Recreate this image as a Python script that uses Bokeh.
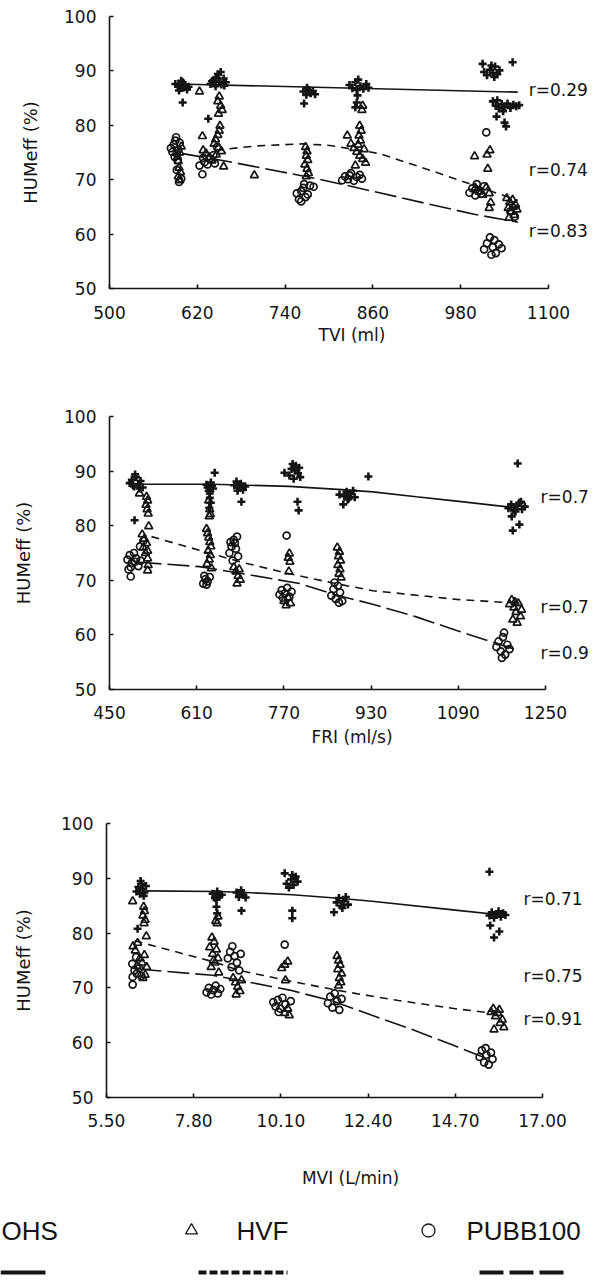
from bokeh.plotting import figure
from bokeh.layouts import column, row
from bokeh.models import Range1d, FixedTicker, Label
from bokeh.embed import file_html
from bokeh.resources import INLINE
from bokeh.core.properties import value

FONT = "DejaVu Sans"
INK = "#141414"

Y_TICKS = [50, 60, 70, 80, 90, 100]

# ---------------- Panel 1: TVI (ml) ----------------
TVI_TICKS = [500, 620, 740, 860, 980, 1100]
TVI_OHS = [(590, 87.6), (594, 87.2), (597, 86.8), (600, 87.9), (603, 87.4), (606, 86.6), (598, 88.2), (608, 87.1),
           (595, 86.4), (601, 86.9), (600, 84.2),
           (638, 87.6), (642, 88.3), (645, 87.2), (648, 89.4), (650, 88.0), (653, 87.5), (656, 88.6), (659, 87.9),
           (646, 88.8), (652, 89.8), (640, 88.1), (657, 87.3), (635, 81.2),
           (765, 86.2), (769, 85.6), (772, 86.5), (775, 85.9), (778, 86.3), (770, 86.9), (781, 85.7), (766, 84.0),
           (828, 87.4), (832, 86.8), (836, 87.9), (840, 88.4), (843, 87.2), (847, 86.7), (851, 87.6), (854, 86.9),
           (838, 86.5), (839, 85.5), (838, 84.2), (836, 83.3),
           (1010, 91.3), (1012, 89.8), (1016, 89.2), (1020, 90.2), (1024, 89.6), (1027, 90.8), (1030, 89.4),
           (1033, 90.1), (1026, 88.9), (1022, 91.0), (1051, 91.6),
           (1024, 84.4), (1028, 83.6), (1032, 83.1), (1036, 83.9), (1040, 83.4), (1044, 84.0), (1048, 83.2),
           (1052, 83.8), (1056, 83.5), (1060, 83.7), (1038, 82.6), (1030, 84.6), (1029, 81.6), (1042, 79.8),
           (1040, 80.5)]
TVI_HVF = [(623, 86.2), (650, 85.3), (648, 84.4), (652, 83.6), (654, 82.8), (649, 82.1), (651, 79.9), (650, 79.0),
           (648, 78.2), (627, 78.0), (645, 77.4), (643, 76.6), (649, 75.9), (653, 75.2), (646, 74.6), (656, 72.4),
           (698, 70.8),
           (593, 74.2), (596, 75.0), (598, 76.1), (594, 73.4), (595, 72.2), (597, 71.4), (594, 70.6), (596, 69.9),
           (628, 75.4), (632, 74.8), (636, 74.1), (640, 73.5),
           (768, 76.0), (770, 75.2), (769, 74.4), (771, 73.6), (767, 72.8), (770, 72.0), (772, 71.2), (769, 70.6),
           (825, 78.1), (842, 79.9), (844, 79.0), (841, 78.1), (843, 77.2), (846, 83.6), (845, 82.8), (830, 76.6),
           (834, 75.8), (838, 75.1), (842, 74.4), (846, 73.8), (850, 73.1), (836, 72.6), (840, 76.4), (848, 75.6),
           (999, 74.3), (1016, 74.6), (1020, 75.4), (1017, 72.0), (1000, 68.5), (1005, 67.8), (1010, 67.2),
           (1015, 68.6), (1019, 67.5), (1021, 65.8), (1019, 64.8),
           (1043, 66.6), (1047, 65.9), (1051, 66.3), (1055, 65.4), (1045, 64.8), (1049, 64.1), (1053, 63.5),
           (1057, 64.5), (1046, 63.0), (1052, 65.0)]
TVI_PUBB = [(584, 75.8), (588, 76.5), (590, 77.2), (592, 74.8), (594, 75.5), (596, 76.8), (589, 74.2), (586, 75.1),
            (591, 77.8), (593, 73.6), (592, 71.8), (598, 70.2), (595, 69.6),
            (623, 72.6), (627, 71.0), (630, 73.2), (634, 72.8), (638, 73.9), (642, 74.5), (644, 73.0), (628, 74.0),
            (647, 76.0),
            (756, 67.5), (759, 66.4), (762, 67.9), (765, 68.5), (768, 66.8), (771, 67.3), (774, 68.9), (762, 66.0),
            (766, 69.2), (779, 68.7),
            (818, 69.9), (822, 70.6), (826, 70.1), (830, 71.2), (834, 69.8), (838, 70.5), (842, 70.9), (845, 70.2),
            (828, 70.8),
            (992, 67.6), (996, 68.4), (1000, 67.1), (1004, 68.0), (1008, 67.4), (1012, 68.8), (1002, 69.2),
            (1015, 78.7),
            (1012, 57.2), (1016, 58.3), (1020, 59.4), (1024, 57.6), (1028, 56.5), (1032, 58.1), (1036, 57.4),
            (1022, 56.2), (1026, 58.9), (1048, 64.2), (1054, 63.2)]
TVI_FIT_OHS = [(592, 87.6), (1058, 86.1)]
TVI_FIT_HVF = [(664, 75.7), (700, 76.2), (764, 76.6), (801, 76.3), (869, 74.8), (937, 71.8), (1002, 68.8), (1058, 66.2)]
TVI_FIT_PUBB = [(600, 74.8), (664, 73.3), (783, 70.2), (869, 67.6), (937, 65.5), (1000, 63.6), (1058, 62.2)]
TVI_R = ["r=0.29", "r=0.74", "r=0.83"]
TVI_R_Y = [86.4, 71.7, 60.5]

# ---------------- Panel 2: FRI (ml/s) ----------------
FRI_TICKS = [450, 610, 770, 930, 1090, 1250]
FRI_OHS = [(487, 87.8), (491, 88.4), (495, 87.2), (499, 88.9), (503, 87.6), (507, 88.2), (511, 87.0), (497, 89.4),
           (505, 86.8), (493, 87.4), (496, 81.0),
           (643, 89.7), (628, 87.5), (632, 86.4), (636, 87.9), (640, 86.8), (634, 85.9), (630, 87.0), (638, 87.3),
           (634, 85.1), (636, 84.2), (633, 83.3),
           (679, 87.4), (683, 88.1), (687, 87.0), (691, 87.7), (695, 86.6), (699, 87.2), (685, 86.4), (692, 84.4),
           (771, 89.7), (780, 89.2), (784, 90.4), (788, 88.6), (792, 91.0), (796, 89.6), (800, 88.9), (790, 90.1),
           (798, 90.6), (786, 91.3), (795, 84.4), (797, 82.8),
           (872, 85.7), (881, 85.4), (885, 86.2), (889, 85.0), (893, 85.8), (897, 86.4), (900, 85.2), (887, 84.8),
           (879, 83.9), (925, 89.0),
           (1199, 91.4), (1182, 83.2), (1187, 83.9), (1192, 82.8), (1197, 83.6), (1202, 84.2), (1207, 83.0),
           (1212, 83.5), (1195, 82.6), (1205, 84.4), (1188, 81.7), (1202, 80.2), (1190, 79.1)]
FRI_HVF = [(505, 85.9), (518, 85.3), (520, 84.6), (517, 83.8), (519, 83.0), (521, 82.2), (522, 79.9),
           (510, 78.4), (514, 77.6), (518, 76.8), (512, 76.0), (520, 75.4), (516, 75.0), (520, 74.0), (521, 72.8),
           (520, 71.8),
           (632, 84.6), (634, 83.0), (635, 82.1), (633, 81.7),
           (628, 79.4), (630, 78.6), (632, 77.8), (634, 77.0), (636, 76.2), (631, 75.4), (635, 74.6), (633, 73.8),
           (629, 73.0), (637, 72.2),
           (678, 72.4), (682, 71.6), (686, 70.8), (690, 70.1), (684, 69.4), (688, 72.0),
           (780, 74.9), (778, 74.1), (781, 73.4), (779, 71.6), (770, 66.2), (774, 65.4), (778, 66.8), (782, 65.8),
           (868, 76.0), (872, 75.2), (870, 74.4), (874, 73.6), (869, 72.8), (873, 72.0), (871, 71.2), (875, 70.5),
           (1184, 65.6), (1188, 66.4), (1192, 65.0), (1196, 64.2), (1200, 65.8), (1204, 63.4), (1190, 62.8),
           (1198, 62.2), (1206, 64.6), (1194, 66.0)]
FRI_PUBB = [(483, 73.8), (487, 74.6), (491, 73.2), (495, 75.0), (499, 74.0), (503, 72.6), (507, 73.6), (489, 72.4),
            (497, 73.4), (489, 70.7), (485, 72.0), (506, 76.2), (512, 77.2),
            (622, 69.4), (626, 70.2), (630, 69.8), (634, 70.6), (628, 69.2), (624, 70.8),
            (670, 75.0), (674, 76.2), (678, 77.4), (682, 75.8), (686, 74.4), (676, 73.6), (680, 76.8), (684, 78.0),
            (672, 77.0),
            (775, 78.2), (762, 67.4), (766, 68.2), (768, 66.8), (772, 67.6), (776, 68.6), (780, 67.0), (784, 67.9),
            (857, 67.2), (861, 68.4), (865, 66.6), (869, 69.0), (873, 67.8), (877, 66.2), (863, 69.6), (871, 65.9),
            (1160, 57.8), (1164, 58.8), (1168, 57.0), (1172, 59.6), (1176, 56.4), (1180, 58.2), (1184, 57.4),
            (1170, 55.8), (1174, 60.4)]
FRI_FIT_OHS = [(496, 87.6), (640, 87.6), (780, 87.2), (876, 86.6), (933, 86.2), (1013, 85.3), (1087, 84.5), (1202, 83.2)]
FRI_FIT_HVF = [(527, 78.0), (615, 75.5), (689, 73.4), (780, 71.2), (860, 69.5), (933, 68.1), (1087, 66.5), (1202, 65.8)]
FRI_FIT_PUBB = [(505, 73.3), (615, 72.5), (689, 71.3), (799, 69.4), (859, 67.5), (933, 65.6), (1013, 63.3),
                (1087, 60.8), (1199, 57.2)]
FRI_R = ["r=0.7", "r=0.7", "r=0.9"]
FRI_R_Y = [85.3, 65.2, 56.6]

# ---------------- Panel 3: MVI (L/min) ----------------
MVI_TICKS = [5.5, 7.8, 10.1, 12.4, 14.7, 17.0]
MVI_TICK_LABELS = ["5.50", "7.80", "10.10", "12.40", "14.70", "17.00"]
MVI_OHS = [(6.29, 87.6), (6.34, 88.4), (6.38, 87.2), (6.42, 89.0), (6.46, 88.0), (6.50, 87.4), (6.54, 88.6),
           (6.40, 89.5), (6.48, 86.8), (6.32, 80.8),
           (8.30, 87.2), (8.36, 86.4), (8.42, 87.6), (8.48, 86.8), (8.54, 87.0), (8.40, 86.1), (8.40, 84.8),
           (8.42, 83.6),
           (8.93, 87.4), (8.99, 86.6), (9.05, 87.8), (9.11, 87.0), (9.17, 86.5), (9.06, 84.1),
           (10.20, 90.9), (10.25, 89.0), (10.31, 88.3), (10.37, 89.8), (10.43, 88.8), (10.49, 90.3), (10.54, 89.4),
           (10.40, 90.6), (10.40, 84.1), (10.40, 82.7),
           (11.50, 83.8), (11.57, 85.6), (11.63, 86.4), (11.69, 85.0), (11.75, 85.8), (11.81, 86.6), (11.87, 85.2),
           (11.72, 84.6),
           (15.60, 91.2), (15.60, 83.2), (15.66, 83.8), (15.72, 82.8), (15.78, 83.5), (15.84, 84.0), (15.90, 83.0),
           (15.96, 83.6), (16.02, 83.3), (15.62, 81.4), (15.86, 80.3), (15.72, 79.2)]
MVI_HVF = [(6.19, 85.8), (6.48, 84.8), (6.50, 84.0), (6.46, 83.2), (6.52, 82.4), (6.49, 81.8), (6.55, 79.4),
           (6.20, 77.6), (6.26, 76.8), (6.32, 78.2), (6.38, 75.4), (6.44, 74.6), (6.50, 76.0), (6.56, 73.8),
           (6.30, 74.0), (6.52, 72.4), (6.46, 71.8),
           (8.38, 82.2), (8.42, 81.8), (8.44, 83.0),
           (8.22, 77.4), (8.28, 79.2), (8.34, 78.4), (8.40, 77.0), (8.30, 76.2), (8.44, 75.4), (8.36, 74.6),
           (8.26, 73.8), (8.46, 72.8), (8.32, 75.0),
           (8.84, 71.8), (8.90, 71.0), (8.96, 70.2), (9.02, 69.4), (8.92, 68.8), (9.06, 71.4),
           (10.12, 73.6), (10.20, 74.2), (10.28, 74.8), (10.22, 71.4), (10.20, 65.4), (10.28, 66.2), (10.32, 65.0),
           (11.58, 75.8), (11.62, 75.0), (11.66, 74.2), (11.60, 73.4), (11.70, 72.6), (11.64, 71.8), (11.68, 71.0),
           (11.62, 70.4),
           (15.64, 65.6), (15.70, 66.2), (15.76, 64.8), (15.82, 65.4), (15.88, 63.6), (15.94, 64.2), (15.98, 62.8),
           (15.72, 62.4), (15.86, 66.0)]
MVI_PUBB = [(6.19, 72.0), (6.19, 70.6), (6.18, 74.4), (6.24, 73.2), (6.30, 72.6), (6.36, 73.6), (6.42, 72.2),
            (6.28, 75.6),
            (8.14, 69.2), (8.20, 70.0), (8.26, 68.8), (8.32, 69.6), (8.38, 70.4), (8.44, 69.0), (8.50, 69.8),
            (8.70, 75.4), (8.76, 76.6), (8.82, 77.6), (8.88, 75.8), (8.94, 74.6), (9.00, 73.2), (9.04, 76.2),
            (8.80, 73.8),
            (10.20, 77.9), (9.90, 67.4), (9.96, 66.6), (10.02, 67.8), (10.08, 66.2), (10.14, 68.2), (10.22, 67.0),
            (10.36, 67.6), (10.04, 65.6),
            (11.34, 67.2), (11.40, 68.4), (11.46, 66.4), (11.52, 69.0), (11.58, 67.6), (11.64, 66.0), (11.70, 68.0),
            (15.34, 57.4), (15.40, 58.6), (15.46, 56.4), (15.52, 57.8), (15.58, 56.0), (15.64, 58.2), (15.68, 57.0),
            (15.50, 59.0)]
MVI_FIT_OHS = [(6.55, 87.7), (8.4, 87.6), (9.2, 87.4), (10.4, 87.0), (11.7, 86.3), (12.5, 85.8), (14.7, 84.2),
               (16.05, 83.2)]
MVI_FIT_HVF = [(6.24, 78.6), (8.3, 74.8), (9.0, 73.2), (10.3, 71.3), (11.8, 69.3), (13.2, 67.7), (14.7, 66.2),
               (15.8, 65.3)]
MVI_FIT_PUBB = [(6.37, 73.4), (8.3, 72.3), (9.0, 71.4), (10.33, 69.6), (11.46, 67.6), (12.5, 65.0), (13.6, 62.3),
                (14.7, 59.4), (15.6, 56.9)]
MVI_R = ["r=0.71", "r=0.75", "r=0.91"]
MVI_R_Y = [86.3, 72.1, 64.4]

LEGEND_NAMES = ["OHS", "HVF", "PUBB100"]

FIG_W = 594


def xs(pts):
    return [p[0] for p in pts]


def ys(pts):
    return [p[1] for p in pts]


def panel(xr, xview_end, ticks, tick_labels, xlabel, ohs, hvf, pubb, fits, rtexts, r_x, r_y,
          height, b_left, b_top, b_bottom, ylab_standoff, xtick_standoff, xlab_standoff):
    p = figure(width=FIG_W, height=height, x_range=Range1d(xr[0], xview_end), y_range=Range1d(50, 100),
               output_backend="svg", toolbar_location=None,
               min_border_left=b_left, min_border_right=0,
               min_border_top=b_top, min_border_bottom=b_bottom)
    p.outline_line_color = None
    p.background_fill_color = "white"
    p.border_fill_color = "white"
    p.xgrid.visible = False
    p.ygrid.visible = False

    p.xaxis.ticker = FixedTicker(ticks=ticks)
    p.xaxis.bounds = (xr[0], xr[1])
    if tick_labels is not None:
        p.xaxis.major_label_overrides = {t: l for t, l in zip(ticks, tick_labels)}
    p.yaxis.ticker = FixedTicker(ticks=Y_TICKS)
    for ax in (p.xaxis[0], p.yaxis[0]):
        ax.axis_line_color = INK
        ax.axis_line_width = 1.6
        ax.major_tick_line_color = INK
        ax.major_tick_line_width = 1.6
        ax.major_tick_in = 4
        ax.major_tick_out = 0
        ax.minor_tick_line_color = None
        ax.major_label_text_font = FONT
        ax.major_label_text_font_size = "17px"
        ax.major_label_text_color = INK
        ax.major_label_standoff = 13
        ax.axis_label_text_font = FONT
        ax.axis_label_text_font_style = "normal"
        ax.axis_label_text_color = INK
    p.xaxis.major_label_standoff = xtick_standoff
    p.xaxis.axis_label_text_font_size = "17px"
    p.yaxis.axis_label_text_font_size = "18px"
    p.xaxis.axis_label = xlabel
    p.yaxis.axis_label = "HUMeff (%)"
    p.yaxis.axis_label_standoff = ylab_standoff
    p.xaxis.axis_label_standoff = xlab_standoff

    f_ohs, f_hvf, f_pubb = fits
    p.line(xs(f_ohs), ys(f_ohs), line_color=INK, line_width=1.6)
    p.line(xs(f_hvf), ys(f_hvf), line_color=INK, line_width=1.6, line_dash="8 6")
    p.line(xs(f_pubb), ys(f_pubb), line_color=INK, line_width=1.6, line_dash="22 6")

    p.scatter(xs(pubb), ys(pubb), marker="circle", size=7, fill_color=None, line_color=INK, line_width=1.7)
    p.scatter(xs(hvf), ys(hvf), marker="triangle", size=8, fill_color=None, line_color=INK, line_width=1.7)
    p.scatter(xs(ohs), ys(ohs), marker="cross", size=8, line_color=INK, line_width=2.6)

    for t, yv in zip(rtexts, r_y):
        p.add_layout(Label(x=r_x, y=yv, text=t, text_font=FONT, text_font_size="17px",
                           text_color=INK, text_baseline="middle", text_align="left"))
    return p


# frames run to the right page edge so the r-labels sit inside; axis lines stop at the last tick
p1 = panel((500, 1100), 1162.9, TVI_TICKS, None, "TVI (ml)", TVI_OHS, TVI_HVF, TVI_PUBB,
           (TVI_FIT_OHS, TVI_FIT_HVF, TVI_FIT_PUBB), TVI_R, 1073, TVI_R_Y,
           398, 109, 16, 110, 20, 17, 3)
p2 = panel((450, 1250), 1339.9, FRI_TICKS, None, "FRI (ml/s)", FRI_OHS, FRI_HVF, FRI_PUBB,
           (FRI_FIT_OHS, FRI_FIT_HVF, FRI_FIT_PUBB), FRI_R, 1241, FRI_R_Y,
           410, 109, 18, 119, 27, 16, 5)
p3 = panel((5.5, 17.0), 18.37, MVI_TICKS, MVI_TICK_LABELS, "MVI (L/min)", MVI_OHS, MVI_HVF, MVI_PUBB,
           (MVI_FIT_OHS, MVI_FIT_HVF, MVI_FIT_PUBB), MVI_R, 16.5, MVI_R_Y,
           385, 106, 15, 96, 24, 16, 38)

# ---------------- Legend strip ----------------
LG_H = 82
lg = figure(width=FIG_W, height=LG_H, x_range=Range1d(0, FIG_W), y_range=Range1d(LG_H, 0),
            output_backend="svg", toolbar_location=None,
            x_axis_location=None, y_axis_location=None,
            min_border_left=0, min_border_right=0, min_border_top=0, min_border_bottom=0)
lg.outline_line_color = None
lg.xgrid.visible = False
lg.ygrid.visible = False
lg.background_fill_color = "white"
lg.border_fill_color = "white"
lg.text(x=[1, 236, 466], y=[37, 37, 37], text=LEGEND_NAMES, text_font=value("Liberation Sans"),
        text_font_size="26px", text_color=INK, text_baseline="middle", text_align="left")
lg.scatter([191], [37], marker="triangle", size=12, fill_color=None, line_color=INK, line_width=1.3)
lg.scatter([428], [37], marker="circle", size=13, fill_color=None, line_color=INK, line_width=1.3)
lg.line([0, 45], [79, 79], line_color=INK, line_width=4)
lg.line([198, 287], [79, 79], line_color=INK, line_width=4, line_dash="8 3")
lg.line([479, 568], [79, 79], line_color=INK, line_width=4, line_dash="24 6")

layout = column(row(p1), row(p2), row(p3), row(lg), spacing=0)
open("out.html", "w").write(file_html(layout, INLINE))
